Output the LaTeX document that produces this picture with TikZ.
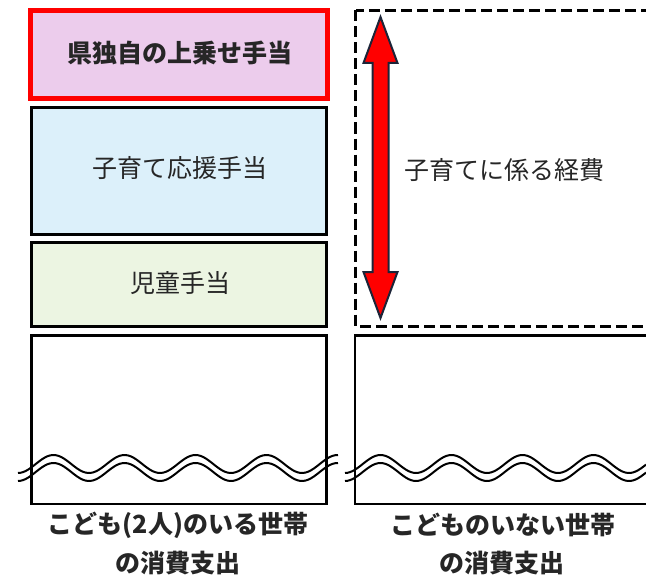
\documentclass[tikz,border=0pt]{standalone}
\usepackage{fontspec}
\setmainfont{Noto Sans CJK JP}
\definecolor{pinkfill}{RGB}{236,204,236}
\definecolor{bluefill}{RGB}{220,240,250}
\definecolor{greenfill}{RGB}{236,245,226}
\definecolor{redline}{RGB}{255,0,0}
\definecolor{navy}{RGB}{28,36,56}
\definecolor{txt}{RGB}{38,38,38}
\tikzset{
  lbl/.style={font=\fontsize{25}{30}\selectfont, text=txt, inner sep=0pt},
  blbl/.style={lbl, font=\fontsize{25}{30}\selectfont\bfseries},
  colbox/.style={draw=black, line width=3pt},
  plainbox/.style={draw=black, line width=2.5pt},
  wave/.style={line width=2pt, black},
}
\begin{document}
\begin{tikzpicture}[x=1pt,y=-1pt]
\useasboundingbox (0,0) rectangle (646,578);
\clip (0,0) rectangle (646,578);
% left column
\draw[line width=5pt, draw=redline, fill=pinkfill] (30.5,10.5) rectangle (327.5,98.5);
\draw[colbox, fill=bluefill] (31.5,107.5) rectangle (326.5,234.5);
\draw[colbox, fill=greenfill] (31.5,242.5) rectangle (326.5,326.5);
\draw[plainbox] (31.5,335.5) rectangle (326.5,504);
% right column
\draw[line width=3pt, dash pattern=on 11pt off 5pt] (355.5,10.5) rectangle (652,326);
\draw[plainbox] (355,335.5) rectangle (660,504);
% double arrow
\draw[line width=2pt, draw=navy, fill=red, line join=miter]
  (380.5,17) -- (397.5,63) -- (388.5,63) -- (388.5,272) -- (397.5,272)
  -- (380.5,318) -- (363.5,272) -- (372.5,272) -- (372.5,63) -- (363.5,63) -- cycle;
% waves
\draw[wave] plot[domain=18:338, samples=120] (\x, {464+9*cos((\x-18)*5.0704)});
\draw[wave] plot[domain=18:338, samples=120] (\x, {472+9*cos((\x-18)*5.0704)});
\draw[wave] plot[domain=345:646, samples=120] (\x, {464+9*cos((\x-345)*5.0704)});
\draw[wave] plot[domain=345:646, samples=120] (\x, {472+9*cos((\x-345)*5.0704)});
% labels
\node[blbl] (kendoku) at (180,53) {県独自の上乗せ手当};
\node[lbl] (kosodate) at (180,168) {子育て応援手当};
\node[lbl] (jido) at (180,283) {児童手当};
\node[lbl] (keihi) at (504,170) {子育てに係る経費};
\node[blbl] (with1) at (178,525) {こども(2人)のいる世帯};
\node[blbl] (with2) at (178,563) {の消費支出};
\node[blbl] (without1) at (503,525) {こどものいない世帯};
\node[blbl] (without2) at (502,563) {の消費支出};
\end{tikzpicture}
\end{document}
